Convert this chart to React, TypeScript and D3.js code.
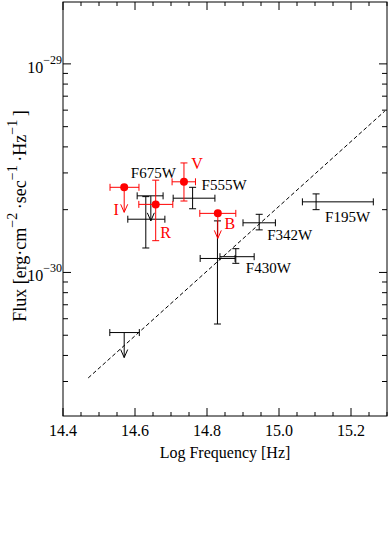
import React from "react";
import * as d3 from "d3";

// ---- data (log frequency [Hz], flux [erg cm^-2 s^-1 Hz^-1]) ----
const blackNames = ["F675W", "F555W", "", "F430W", "F342W", "F195W"];
const blackX = [14.63, 14.76, 14.829, 14.88, 14.945, 15.103];
const blackXLo = [14.58, 14.706, 14.781, 14.836, 14.9, 15.065];
const blackXHi = [14.683, 14.822, 14.878, 14.931, 14.99, 15.262];
const blackY = [1.8e-30, 2.27e-30, 1.167e-30, 1.19e-30, 1.73e-30, 2.18e-30];
const blackYLo = [1.31e-30, 2.02e-30, 0.566e-30, 1.106e-30, 1.6e-30, 2.0e-30];
const blackYHi = [2.31e-30, 2.56e-30, 1.767e-30, 1.3e-30, 1.9e-30, 2.38e-30];

const blackLimX = [14.644, 14.57];
const blackLimXLo = [14.606, 14.53];
const blackLimXHi = [14.678, 14.612];
const blackLimY = [2.33e-30, 5.15e-31];

const redNames = ["R", "V"];
const redX = [14.6575, 14.736];
const redXLo = [14.6106, 14.703];
const redXHi = [14.705, 14.768];
const redY = [2.12e-30, 2.72e-30];
const redYLo = [1.42e-30, 2.2e-30];
const redYHi = [2.77e-30, 3.35e-30];

const redLimNames = ["I", "B"];
const redLimX = [14.57, 14.83];
const redLimXLo = [14.5306, 14.78];
const redLimXHi = [14.611, 14.88];
const redLimY = [2.56e-30, 1.92e-30];

const lineX = [14.47, 15.294];
const lineY = [3.12e-31, 5.94e-30];

const xMajorTicks = [14.4, 14.6, 14.8, 15.0, 15.2];
const xTickLabels = ["14.4", "14.6", "14.8", "15.0", "15.2"];
const yMajorTicks = [1e-30, 1e-29];
const yTickExp = ["\u221230", "\u221229"];

// ---- layout ----
const W = 388;
const H = 534;
const FONT = "'Liberation Serif', 'DejaVu Serif', serif";

const x = d3.scaleLinear().domain([14.4, 15.3]).range([63, 387]);
const y = d3.scaleLog().domain([2.05e-31, 1.98e-29]).range([416, 2]);

const xMinor = d3.range(14.4, 15.3001, 0.05).map((v) => +v.toFixed(2));
const yMinor: number[] = [];
[1e-31, 1e-30, 1e-29].forEach((dec) => {
  for (let k = 2; k <= 9; k++) {
    const v = k * dec;
    if (v >= y.domain()[0] && v <= y.domain()[1]) yMinor.push(v);
  }
});

// label layout (pixel offsets relative to the marker)
const blackLabelOffset: [number, number][] = [
  [-15, -41],
  [9, -8],
  [0, 0],
  [10, 16],
  [8, 17],
  [9, 20],
];
const redLabelOffset: [number, number][] = [
  [10, 34],
  [13, -13],
];
const redLimLabelOffset: [number, number][] = [
  [-8, 28],
  [12, 16],
];

const CAP = 3.5;
const ARROW = 25;

function ErrBar({ cx, xl, xh, cy, yl, yh, color }: any) {
  return (
    <g stroke={color} strokeWidth={1} fill="none">
      <line x1={x(xl)} x2={x(xh)} y1={y(cy)} y2={y(cy)} />
      <line x1={x(xl)} x2={x(xl)} y1={y(cy) - CAP} y2={y(cy) + CAP} />
      <line x1={x(xh)} x2={x(xh)} y1={y(cy) - CAP} y2={y(cy) + CAP} />
      {yl !== undefined && (
        <>
          <line x1={x(cx)} x2={x(cx)} y1={y(yl)} y2={y(yh)} />
          <line x1={x(cx) - CAP} x2={x(cx) + CAP} y1={y(yl)} y2={y(yl)} />
          <line x1={x(cx) - CAP} x2={x(cx) + CAP} y1={y(yh)} y2={y(yh)} />
        </>
      )}
    </g>
  );
}

function Arrow({ cx, cy, color }: any) {
  const px = x(cx);
  const py = y(cy);
  return (
    <g stroke={color} strokeWidth={1} fill="none">
      <line x1={px} x2={px} y1={py} y2={py + ARROW} />
      <polyline points={`${px - 3.5},${py + ARROW - 8} ${px},${py + ARROW} ${px + 3.5},${py + ARROW - 8}`} />
    </g>
  );
}

export default function App() {
  const [x0, x1] = x.range();
  const [y0, y1] = y.range();
  const lineData: [number, number][] = lineX.map((v, i) => [v, lineY[i]]);
  const linePath = d3
    .line<[number, number]>()
    .x((d) => x(d[0]))
    .y((d) => y(d[1]))(lineData) as string;

  return (
    <div style={{ position: "absolute", left: 0, top: 0 }}>
      <svg width={W} height={H} style={{ display: "block", background: "#fff" }} fontFamily={FONT}>
        {/* dashed model line */}
        <path d={linePath} fill="none" stroke="#000" strokeWidth={1} strokeDasharray="4,2.5" />

        {/* black detections */}
        {blackX.map((v, i) => (
          <ErrBar key={"b" + i} cx={v} xl={blackXLo[i]} xh={blackXHi[i]} cy={blackY[i]} yl={blackYLo[i]} yh={blackYHi[i]} color="#000" />
        ))}
        {/* black upper limits */}
        {blackLimX.map((v, i) => (
          <g key={"bl" + i}>
            <ErrBar cx={v} xl={blackLimXLo[i]} xh={blackLimXHi[i]} cy={blackLimY[i]} color="#000" />
            <Arrow cx={v} cy={blackLimY[i]} color="#000" />
          </g>
        ))}
        {/* red detections */}
        {redX.map((v, i) => (
          <g key={"r" + i}>
            <ErrBar cx={v} xl={redXLo[i]} xh={redXHi[i]} cy={redY[i]} yl={redYLo[i]} yh={redYHi[i]} color="#ff0000" />
            <circle cx={x(v)} cy={y(redY[i])} r={4} fill="#ff0000" />
          </g>
        ))}
        {/* red upper limits */}
        {redLimX.map((v, i) => (
          <g key={"rl" + i}>
            <ErrBar cx={v} xl={redLimXLo[i]} xh={redLimXHi[i]} cy={redLimY[i]} color="#ff0000" />
            <Arrow cx={v} cy={redLimY[i]} color="#ff0000" />
            <circle cx={x(v)} cy={y(redLimY[i])} r={4} fill="#ff0000" />
          </g>
        ))}

        {/* labels */}
        {blackNames.map((n, i) =>
          n ? (
            <text key={"bn" + i} x={x(blackX[i]) + blackLabelOffset[i][0]} y={y(blackY[i]) + blackLabelOffset[i][1]} fontSize={15} fill="#000">
              {n}
            </text>
          ) : null
        )}
        {redNames.map((n, i) => (
          <text key={"rn" + i} x={x(redX[i]) + redLabelOffset[i][0]} y={y(redY[i]) + redLabelOffset[i][1]} fontSize={16} fill="#ff0000" textAnchor="middle">
            {n}
          </text>
        ))}
        {redLimNames.map((n, i) => (
          <text key={"rln" + i} x={x(redLimX[i]) + redLimLabelOffset[i][0]} y={y(redLimY[i]) + redLimLabelOffset[i][1]} fontSize={16} fill="#ff0000" textAnchor="middle">
            {n}
          </text>
        ))}

        {/* frame */}
        <rect x={x0} y={y1} width={x1 - x0} height={y0 - y1} fill="none" stroke="#000" strokeWidth={1} />

        {/* x ticks */}
        {xMinor.map((v) => {
          const major = xMajorTicks.some((m) => Math.abs(m - v) < 1e-6);
          const len = major ? 8 : 4;
          return (
            <g key={"xt" + v} stroke="#000" strokeWidth={1}>
              <line x1={x(v)} x2={x(v)} y1={y0} y2={y0 - len} />
              <line x1={x(v)} x2={x(v)} y1={y1} y2={y1 + len} />
            </g>
          );
        })}
        {xMajorTicks.map((v, i) => (
          <text key={"xl" + i} x={x(v)} y={y0 + 20} fontSize={16} textAnchor="middle">
            {xTickLabels[i]}
          </text>
        ))}

        {/* y ticks */}
        {yMinor.concat(yMajorTicks).map((v) => {
          const major = yMajorTicks.includes(v);
          const len = major ? 8 : 5;
          return (
            <g key={"yt" + v} stroke="#000" strokeWidth={1}>
              <line x1={x0} x2={x0 + len} y1={y(v)} y2={y(v)} />
              <line x1={x1} x2={x1 - len} y1={y(v)} y2={y(v)} />
            </g>
          );
        })}
        {yMajorTicks.map((v, i) => (
          <text key={"yl" + i} x={x0 - 1} y={y(v) + 9} fontSize={16} textAnchor="end">
            <tspan>10</tspan>
            <tspan dy={-9} fontSize={12}>
              {yTickExp[i]}
            </tspan>
          </text>
        ))}

        {/* axis titles */}
        <text x={(x0 + x1) / 2} y={458} fontSize={16} textAnchor="middle">
          Log Frequency [Hz]
        </text>
        <text transform={`translate(26,${(y0 + y1) / 2 + 7}) rotate(-90)`} fontSize={18} textAnchor="middle">
          Flux [erg·cm
          <tspan dy={-9} fontSize={14}>
            {"\u22122"}
          </tspan>
          <tspan dy={9}>{"\u2009·sec"}</tspan>
          <tspan dy={-9} fontSize={14}>
            {"\u22121"}
          </tspan>
          <tspan dy={9}>{"\u2009·Hz"}</tspan>
          <tspan dy={-9} fontSize={14}>
            {"\u22121"}
          </tspan>
          <tspan dy={9}>{"\u2009]"}</tspan>
        </text>
      </svg>
    </div>
  );
}
